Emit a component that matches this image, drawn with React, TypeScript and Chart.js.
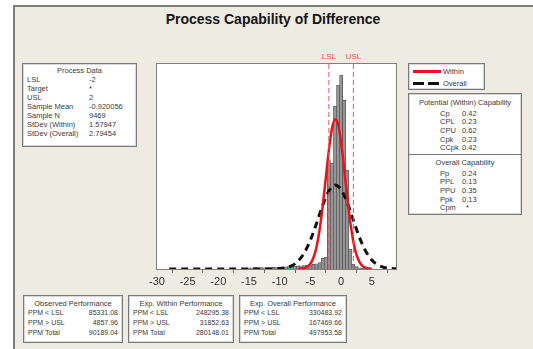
import React, { useEffect, useRef } from "react";
import { Chart, registerables } from "chart.js";
Chart.register(...registerables);

const TITLE = "Process Capability of Difference";
const LSL = -2;
const USL = 2;
const xTicks = [-30, -25, -20, -15, -10, -5, 0, 5];

const binCenters = [
  -15, -14.5, -14, -13.5, -13, -12.5, -12, -11.5, -11, -10.5, -10, -9.5, -9, -8.5, -8, -7.5, -7, -6.5, -6, -5.5,
  -5, -4.5, -4, -3.5, -3, -2.5, -2, -1.5, -1, -0.5, 0, 0.5, 1, 1.5, 2, 2.5, 3, 3.5, 4,
];
const binCounts = [
  8, 10, 12, 10, 12, 10, 12, 12, 14, 12, 14, 16, 18, 20, 22, 24, 26, 28, 30, 32,
  36, 40, 45, 55, 90, 100, 925, 900, 1385, 1565, 1650, 1435, 840, 170, 40, 20, 10, 5, 3,
];

const withinX = [-7, -6, -5, -4.5, -4, -3.5, -3, -2.5, -2, -1.5, -1, -0.5, 0, 0.5, 1, 1.5, 2, 2.5, 3, 3.5, 4, 4.5, 5];
const withinY = [0.8, 7, 45, 98, 190, 336, 536, 773, 1009, 1192, 1273, 1231, 1076, 851, 609, 394, 230, 122, 58, 25, 10, 3.5, 1];

const overallX = [-28, -24, -20, -16, -14, -12, -10, -9, -8, -7, -6, -5, -4, -3, -2, -1, 0, 1, 2, 3, 4, 5, 6, 7, 8, 9];
const overallY = [0, 0, 0, 0, 0, 0.3, 3.6, 11, 29, 67, 137, 246, 389, 541, 663, 714, 676, 564, 414, 267, 152, 76, 33, 13, 4.4, 1.3];

const pdLabels = ["LSL", "Target", "USL", "Sample Mean", "Sample N", "StDev (Within)", "StDev (Overall)"];
const pdValues = ["-2", "*", "2", "-0.920056", "9469", "1.57947", "2.79454"];

const potLabels = ["Cp", "CPL", "CPU", "Cpk", "CCpk"];
const potValues = ["0.42", "0.23", "0.62", "0.23", "0.42"];
const ovLabels = ["Pp", "PPL", "PPU", "Ppk", "Cpm"];
const ovValues = ["0.24", "0.13", "0.35", "0.13", "*"];

const perfTitles = ["Observed Performance", "Exp. Within Performance", "Exp. Overall Performance"];
const perfLabels = ["PPM < LSL", "PPM > USL", "PPM Total"];
const perfValues = [
  ["85331.08", "4857.96", "90189.04"],
  ["248295.38", "31852.63", "280148.01"],
  ["330483.92", "167469.66", "497953.58"],
];

const FONT = "'Liberation Sans', Arial, sans-serif";
const TXT = "#3a3a3a";

const abs = (left: number, top: number, extra: any = {}) => ({
  position: "absolute" as const,
  left,
  top,
  ...extra,
});

const boxStyle = (left: number, top: number, w: number, h: number) => ({
  position: "absolute" as const,
  left,
  top,
  width: w,
  height: h,
  boxSizing: "border-box" as const,
  background: "#fff",
  border: "1px solid #7a7a7a",
  boxShadow: "inset 0 0 0 1px #d8d8d8",
});

function Txt({ x, y, s = 7.5, children, align = "left", w }: any) {
  const style: any = {
    position: "absolute",
    top: y - s * 0.6,
    fontFamily: FONT,
    fontSize: s,
    lineHeight: `${s * 1.2}px`,
    color: TXT,
    whiteSpace: "nowrap",
  };
  if (align === "left") style.left = x;
  else if (align === "right") style.right = x;
  else {
    style.left = 0;
    style.width = w;
    style.textAlign = "center";
  }
  return <div style={style}>{children}</div>;
}

export default function App() {
  const ref = useRef<HTMLCanvasElement>(null);

  useEffect(() => {
    document.body.style.margin = "0";
    const canvas = ref.current!;
    const plotDeco = {
      id: "plotDeco",
      beforeDraw(chart: any) {
        const { ctx, chartArea: a } = chart;
        ctx.save();
        ctx.fillStyle = "#ffffff";
        ctx.fillRect(a.left, a.top, a.right - a.left, a.bottom - a.top);
        ctx.restore();
      },
      afterDraw(chart: any) {
        const { ctx, chartArea: a, scales } = chart;
        ctx.save();
        ctx.strokeStyle = "#808080";
        ctx.lineWidth = 1;
        ctx.strokeRect(a.left + 0.5, a.top + 0.5, a.right - a.left - 1, a.bottom - a.top);
        ctx.fillStyle = "#e05050";
        ctx.font = `8px ${FONT}`;
        ctx.textAlign = "center";
        ctx.textBaseline = "middle";
        ctx.fillText("LSL", scales.x.getPixelForValue(LSL), a.top - 6);
        ctx.fillText("USL", scales.x.getPixelForValue(USL), a.top - 6);
        ctx.restore();
      },
    };

    const yMax = 1752;
    const chart = new Chart(canvas, {
      type: "bar",
      data: {
        datasets: [
          {
            type: "line",
            data: [
              { x: LSL, y: 0 },
              { x: LSL, y: yMax },
            ],
            borderColor: "#e05a5a",
            borderWidth: 1,
            borderDash: [5, 3],
            pointRadius: 0,
            order: 0,
          } as any,
          {
            type: "line",
            data: [
              { x: USL, y: 0 },
              { x: USL, y: yMax },
            ],
            borderColor: "#e05a5a",
            borderWidth: 1,
            borderDash: [5, 3],
            pointRadius: 0,
            order: 0,
          } as any,
          {
            type: "line",
            data: withinX.map((x, i) => ({ x, y: withinY[i] })),
            borderColor: "#e8141c",
            borderWidth: 2.5,
            pointRadius: 0,
            cubicInterpolationMode: "monotone",
            order: 1,
          } as any,
          {
            type: "line",
            data: overallX.map((x, i) => ({ x, y: overallY[i] })),
            borderColor: "#111111",
            borderWidth: 3,
            borderDash: [7, 5],
            pointRadius: 0,
            cubicInterpolationMode: "monotone",
            order: 2,
          } as any,
          {
            type: "bar",
            data: binCenters.map((x, i) => ({ x, y: binCounts[i] })),
            backgroundColor: "#969696",
            borderColor: "#505050",
            borderWidth: 0.7,
            barPercentage: 1,
            categoryPercentage: 1,
            grouped: false,
            order: 3,
          } as any,
        ],
      },
      options: {
        responsive: false,
        animation: false,
        devicePixelRatio: 1,
        layout: { padding: { left: 156, right: 136, top: 63, bottom: 58 } },
        plugins: { legend: { display: false }, tooltip: { enabled: false } },
        scales: {
          x: {
            type: "linear",
            min: -30.15,
            max: 9.1,
            offset: false,
            afterBuildTicks: (s: any) => {
              s.ticks = xTicks.map((v) => ({ value: v }));
            },
            afterFit: (s: any) => {
              s.height = 22;
            },
            ticks: {
              font: { family: FONT, size: 11 },
              color: "#333",
              padding: 2,
              maxRotation: 0,
              autoSkip: false,
              callback: (v: any) => String(v),
            },
            grid: { drawOnChartArea: false, drawTicks: true, tickLength: 4, color: "#666" },
            border: { display: false },
          },
          y: { display: false, min: 0, max: yMax },
        },
      } as any,
      plugins: [plotDeco],
    });
    return () => chart.destroy();
  }, []);

  return (
    <div style={{ position: "absolute", left: 0, top: 0, width: 533, height: 349, background: "#ffffff", overflow: "hidden" }}>
      <div style={{ position: "absolute", left: 13, top: 5, width: 520, height: 344, background: "#eeebe3" }} />
      <div style={{ position: "absolute", left: 13, top: 5, width: 520, height: 2, background: "#7c7c7c" }} />
      <div style={{ position: "absolute", left: 13, top: 5, width: 2, height: 344, background: "#7c7c7c" }} />
      <div
        style={{
          position: "absolute",
          left: 13,
          width: 520,
          top: 10,
          textAlign: "center",
          fontFamily: FONT,
          fontWeight: "bold",
          fontSize: 14,
          lineHeight: "18px",
          color: "#151515",
        }}
      >
        {TITLE}
      </div>
      <canvas ref={ref} width={533} height={349} style={{ position: "absolute", left: 0, top: 0 }} />

      {/* Process Data */}
      <div style={boxStyle(22, 63, 115, 84)}>
        <Txt x={0} y={6} w={113} align="center" s={7.5}>Process Data</Txt>
        {pdLabels.map((l, i) => (
          <React.Fragment key={l}>
            <Txt x={4} y={15 + i * 9}>{l}</Txt>
            <Txt x={66} y={15 + i * 9}>{pdValues[i]}</Txt>
          </React.Fragment>
        ))}
      </div>

      {/* Legend */}
      <div style={boxStyle(408, 63, 77, 27)}>
        <div style={abs(4, 6, { width: 28, height: 3, background: "#e8141c" })} />
        <div style={abs(4, 18, { width: 11, height: 3, background: "#111" })} />
        <div style={abs(19, 18, { width: 11, height: 3, background: "#111" })} />
        <Txt x={34} y={7}>Within</Txt>
        <Txt x={34} y={19}>Overall</Txt>
      </div>

      {/* Capability */}
      <div style={boxStyle(408, 93, 114, 122)}>
        <Txt x={0} y={8} w={112} align="center">Potential (Within) Capability</Txt>
        {potLabels.map((l, i) => (
          <React.Fragment key={l}>
            <Txt x={31} y={19 + i * 8.7}>{l}</Txt>
            <Txt x={53} y={19 + i * 8.7}>{potValues[i]}</Txt>
          </React.Fragment>
        ))}
        <div style={abs(0, 60, { width: 112, height: 1, background: "#7a7a7a" })} />
        <Txt x={0} y={68} w={112} align="center">Overall Capability</Txt>
        {ovLabels.map((l, i) => (
          <React.Fragment key={l}>
            <Txt x={31} y={79 + i * 8.7}>{l}</Txt>
            <Txt x={ovValues[i] === "*" ? 57 : 53} y={79 + i * 8.7}>{ovValues[i]}</Txt>
          </React.Fragment>
        ))}
      </div>

      {/* Performance boxes */}
      {perfTitles.map((t, bi) => {
        const lefts = [23, 128, 239];
        const widths = [100, 106, 108];
        return (
          <div key={t} style={boxStyle(lefts[bi], 295, widths[bi], 48)}>
            <Txt x={0} y={7} w={widths[bi] - 2} align="center">{t}</Txt>
            {perfLabels.map((l, i) => (
              <React.Fragment key={l}>
                <Txt x={4} y={17 + i * 10} s={7}>{l}</Txt>
                <Txt x={4} y={17 + i * 10} s={7} align="right">{perfValues[bi][i]}</Txt>
              </React.Fragment>
            ))}
          </div>
        );
      })}
    </div>
  );
}
